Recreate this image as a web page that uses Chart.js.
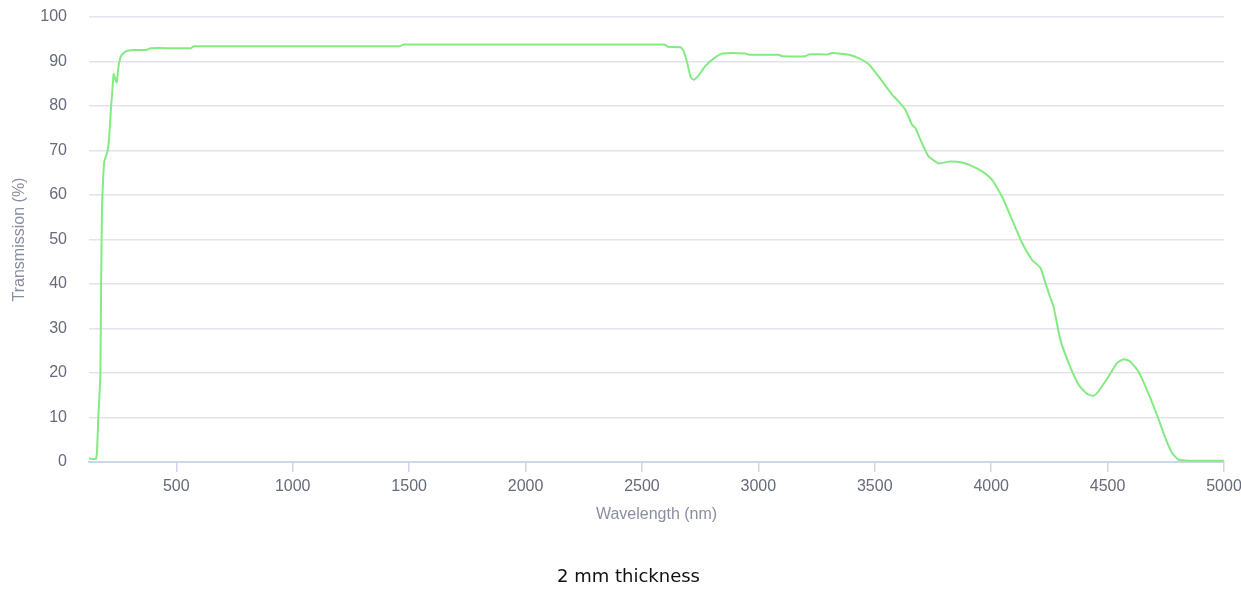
<!DOCTYPE html>
<html>
<head>
<meta charset="utf-8">
<script src="https://cdn.jsdelivr.net/npm/chart.js@4.4.1/dist/chart.umd.min.js"></script>
<style>
  html, body { margin: 0; padding: 0; background: #ffffff; }
  #wrap { position: relative; width: 1241px; height: 593px; }
  #caption { position: absolute; left: 0; width: 1257px; top: 565px; text-align: center;
             font-family: 'DejaVu Sans', sans-serif; font-size: 18px; color: #111; }
</style>
</head>
<body>
<div id="wrap">
  <canvas id="c" width="1241" height="593"></canvas>
  <div id="caption">2 mm thickness</div>
</div>
<script>
const wavelengths = [125, 140, 155, 160, 165, 170, 174, 177, 181, 186, 191, 205, 212, 220, 226, 231, 238, 244, 252, 263, 284, 320, 370, 391, 563, 575, 1460, 1475, 2594, 2604, 2610, 2666, 2680, 2695, 2709, 2723, 2745, 2773, 2809, 2845, 2945, 2960, 3088, 3102, 3203, 3217, 3296, 3317, 3346, 3389, 3432, 3474, 3517, 3575, 3603, 3632, 3660, 3675, 3703, 3732, 3775, 3818, 3875, 3918, 3961, 4004, 4047, 4090, 4133, 4176, 4212, 4233, 4255, 4268, 4297, 4333, 4375, 4411, 4440, 4461, 4504, 4540, 4569, 4597, 4633, 4669, 4712, 4748, 4777, 4805, 4850, 5000];
const transmission = [0.8, 0.7, 0.7, 3, 10, 15, 20, 40, 57.5, 64, 67.6, 69.9, 73.3, 80, 84, 87.2, 86, 85.3, 89, 91.3, 92.3, 92.6, 92.6, 93.0, 93.0, 93.4, 93.4, 93.8, 93.8, 93.6, 93.3, 93.2, 92.2, 89.6, 86.5, 85.9, 87.0, 89.0, 90.7, 91.8, 91.8, 91.5, 91.5, 91.2, 91.2, 91.6, 91.6, 91.9, 91.8, 91.5, 90.7, 89.4, 86.6, 82.5, 81.0, 79.1, 75.8, 75.0, 71.6, 68.6, 67.1, 67.5, 67.3, 66.5, 65.3, 63.4, 59.6, 54.4, 49.2, 45.4, 43.6, 40.2, 36.8, 34.9, 27.5, 22.2, 17.4, 15.3, 14.9, 15.9, 19.2, 22.2, 23.1, 22.6, 20.3, 16.2, 10.6, 5.4, 2.0, 0.5, 0.3, 0.3];
const xTickValues = [500, 1000, 1500, 2000, 2500, 3000, 3500, 4000, 4500, 5000];
const yTickStep = 10;

const points = wavelengths.map((w, i) => ({ x: w, y: transmission[i] }));

new Chart(document.getElementById('c'), {
  type: 'line',
  data: {
    datasets: [{
      data: points,
      borderColor: 'rgb(132, 234, 132)',
      borderWidth: 2,
      pointRadius: 0,
      tension: 0.15,
      fill: false
    }]
  },
  options: {
    responsive: false,
    animation: false,
    layout: { padding: { top: 17, right: 17, bottom: 61, left: 0 } },
    plugins: { legend: { display: false }, tooltip: { enabled: false }, title: { display: false } },
    scales: {
      x: {
        type: 'linear',
        min: 125,
        max: 5000,
        afterBuildTicks: (scale) => { scale.ticks = xTickValues.map(v => ({ value: v })); },
        afterFit: (scale) => { scale.height = 70; scale.paddingRight = 0; scale.paddingLeft = 0; },
        grid: { drawOnChartArea: false, drawTicks: true, tickLength: 10, color: '#ccd6eb', lineWidth: 1.5 },
        border: { display: true, color: '#ccd6eb', width: 2 },
        ticks: { color: '#666a7a', font: { family: 'Liberation Sans', size: 16 }, padding: 5, maxRotation: 0, autoSkip: false,
                 callback: (v) => String(v) },
        title: { display: true, text: 'Wavelength (nm)', color: '#8a8ea2', font: { family: 'Liberation Sans', size: 16 }, padding: { top: 0, bottom: 8 } }
      },
      y: {
        min: 0,
        max: 100,
        afterFit: (scale) => { scale.width = 89; scale.paddingTop = 0; scale.paddingBottom = 0; },
        ticks: { stepSize: yTickStep, color: '#666a7a', font: { family: 'Liberation Sans', size: 16 }, padding: 22 },
        grid: { drawTicks: false, color: '#e3e3ec', lineWidth: 1.5 },
        border: { display: false },
        title: { display: true, text: 'Transmission (%)', color: '#8a8ea2', font: { family: 'Liberation Sans', size: 16 }, padding: { top: 10, bottom: 4 } }
      }
    }
  }
});
</script>
</body>
</html>
